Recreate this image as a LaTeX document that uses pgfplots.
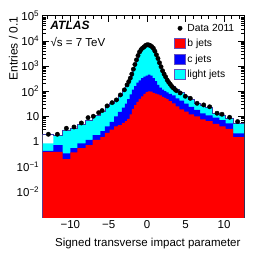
\documentclass[border=0pt]{standalone}
\usepackage{fontspec}
\setmainfont{Liberation Sans}
\usepackage{pgfplots}
\usepackage{pgfplotstable}
\pgfplotsset{compat=1.18}
\definecolor{outl}{RGB}{60,60,170}
\definecolor{lgline}{RGB}{100,80,190}
\definecolor{rcyan}{RGB}{0,255,255}
\definecolor{rblue}{RGB}{0,0,255}
\definecolor{rred}{RGB}{255,0,0}
\pgfplotsset{
 boxlegend/.style={legend image code/.code={\draw[##1] (0bp,-5bp) rectangle (11bp,5bp);}},
 dotlegend/.style={legend image code/.code={\draw[mark repeat=2,mark phase=2,##1] plot coordinates {(0bp,0bp)(5.5bp,0bp)(11bp,0bp)};}},
}
\pgfplotstableread{
x Tout T B R
-13.6 1e-4 1e-4 1e-4 1e-4
-13.6 1.9 0.85 0.42 0.39
-12.2 1.7 1.7 0.72 0.39
-11.0 2.9 2.9 0.34 0.2
-10.0 3.4 3.4 0.54 0.37
-9.1 4.9 4.9 0.85 0.54
-8.0 7.2 7.2 1.15 0.72
-7.1 11 11 1.8 1.15
-6.1 16 16 2.6 1.5
-5.5 24 24 4 2.2
-4.9 33 33 6 3
-4.3 45 45 10 4
-3.8 68 68 15 4.5
-3.3 105 105 22 5.5
-2.9 170 170 32 6.5
-2.6 250 250 48 8
-2.3 380 380 75 12
-2.0 650 650 115 20
-1.7 1200 1200 160 28
-1.4 2100 2100 220 38
-1.1 3600 3600 270 50
-0.8 4800 4800 330 62
-0.5 6000 6000 380 78
-0.2 6900 6900 420 92
0.1 6700 6700 450 98
0.4 5800 5800 420 95
0.7 4400 4400 330 85
1.0 2900 2900 250 80
1.3 1800 1800 180 74
1.6 1000 1000 140 68
1.9 580 580 115 60
2.2 400 400 100 54
2.5 290 290 90 48
2.8 210 210 78 40
3.2 155 155 68 33
3.7 115 115 52 25
4.2 88 88 42 19
4.8 65 65 32 15.5
5.4 48 48 24 12
6.1 32 32 18 10
6.9 27 27 13 7.6
7.6 22 22 11 6.5
8.5 13 13 9 5
9.4 11 11 7 4
10.2 8.4 8.4 5.2 3.2
11.2 5.2 5.2 2.1 1.5
12.6 5.2 5.2 2.1 1.5
12.6 1e-4 1e-4 1e-4 1e-4
}\hist
\pgfplotstableread{
x y
-12.86 1.94
-11.69 1.94
-10.52 3.36
-9.52 3.78
-8.57 5.46
-7.70 8.87
-7.01 10.1
-6.32 14
-5.87 17
-5.22 26
-4.57 35
-4.01 45
-3.49 71
-2.97 113
-2.62 178
-2.4 240
-2.2 330
-2.0 480
-1.8 750
-1.6 1150
-1.4 1750
-1.2 2600
-1.0 3600
-0.8 4500
-0.6 5200
-0.4 5800
-0.2 6600
0.0 7000
0.2 6900
0.4 6500
0.6 5900
0.8 5100
1.0 3900
1.2 2800
1.4 2000
1.6 1350
1.8 940
2.0 650
2.2 480
2.4 370
2.6 280
2.8 225
3.0 190
3.2 155
3.4 135
3.6 118
3.8 105
4.3 85
4.96 63
5.61 52
6.49 33
7.35 28.5
8.13 24
9.09 13.3
9.74 12.1
10.73 9.2
11.77 6.2
}\data
\begin{document}
\begin{tikzpicture}
\useasboundingbox (-42.7bp,-39bp) rectangle (223.3bp,217bp);
\begin{axis}[
 scale only axis, width=201.3bp, height=201.3bp,
 at={(0,0)}, anchor=south west,
 ymode=log, xmin=-13.6, xmax=12.6, ymin=1e-3, ymax=1e5,
 xtick={-10,-5,0,5,10}, xticklabels={−10,−5,0,5,10},
 minor xtick={-13,...,12},
 ytick={1e-3,1e-2,1e-1,1,10,100,1000,1e4,1e5},
 yticklabels={{},10\textsuperscript{−2},10\textsuperscript{−1},1,10,10\textsuperscript{2},10\textsuperscript{3},10\textsuperscript{4},10\textsuperscript{5}},
 major tick length=6bp, minor tick length=3bp,
 tick align=inside,
 tick style={line width=0.6bp, black},
 axis line style={line width=0.7bp},
 tick label style={font=\fontsize{11.5bp}{13bp}\selectfont},
 every axis x label/.style={at={(axis description cs:1,0)}, anchor=base east, yshift=-29bp, font=\fontsize{11.5bp}{13bp}\selectfont},
 every axis y label/.style={at={(axis description cs:-0.125,1.013)}, rotate=90, anchor=base east, font=\fontsize{12bp}{14bp}\selectfont},
 xlabel={Signed transverse impact parameter},
 ylabel={Entries / 0.1},
 legend style={draw=none, fill=none, at={(axis description cs:0.652,0.972)}, anchor=north west, inner sep=0pt, row sep=2bp,
   font=\fontsize{10.3bp}{12bp}\selectfont, nodes={inner sep=1.5bp, text height=8bp, text depth=2.5bp}},
 legend cell align=left,
]
\addplot[const plot, fill=white, draw=none, forget plot] table[x=x,y=Tout] {\hist};
\addplot[const plot, fill=rcyan, draw=none, forget plot] table[x=x,y=T] {\hist};
\addplot[const plot, fill=rblue, draw=none, forget plot] table[x=x,y=B] {\hist};
\addplot[const plot, fill=rred, draw=none, forget plot] table[x=x,y=R] {\hist};
\addplot[const plot, draw=outl, line width=0.6bp, forget plot] table[x=x,y=Tout] {\hist};
\addplot[only marks, mark=*, mark size=2.2bp, black, forget plot] table[x=x,y=y] {\data};
\addlegendimage{dotlegend, only marks, mark=*, mark size=2.2bp, black}
\addlegendentry{Data 2011}
\addlegendimage{boxlegend, fill=rred, draw=lgline, line width=0.8bp}
\addlegendentry{b jets}
\addlegendimage{boxlegend, fill=rblue, draw=lgline, line width=0.8bp}
\addlegendentry{c jets}
\addlegendimage{boxlegend, fill=rcyan, draw=lgline, line width=0.8bp}
\addlegendentry{light jets}
\node[anchor=base west, font=\fontsize{12bp}{14bp}\selectfont\bfseries\itshape] at (axis description cs:0.021,0.931) {ATLAS};
\node[anchor=base west, font=\fontsize{11.5bp}{13bp}\selectfont] at (axis description cs:0.022,0.846) {√s = 7 TeV};
\end{axis}
\end{tikzpicture}
\end{document}
